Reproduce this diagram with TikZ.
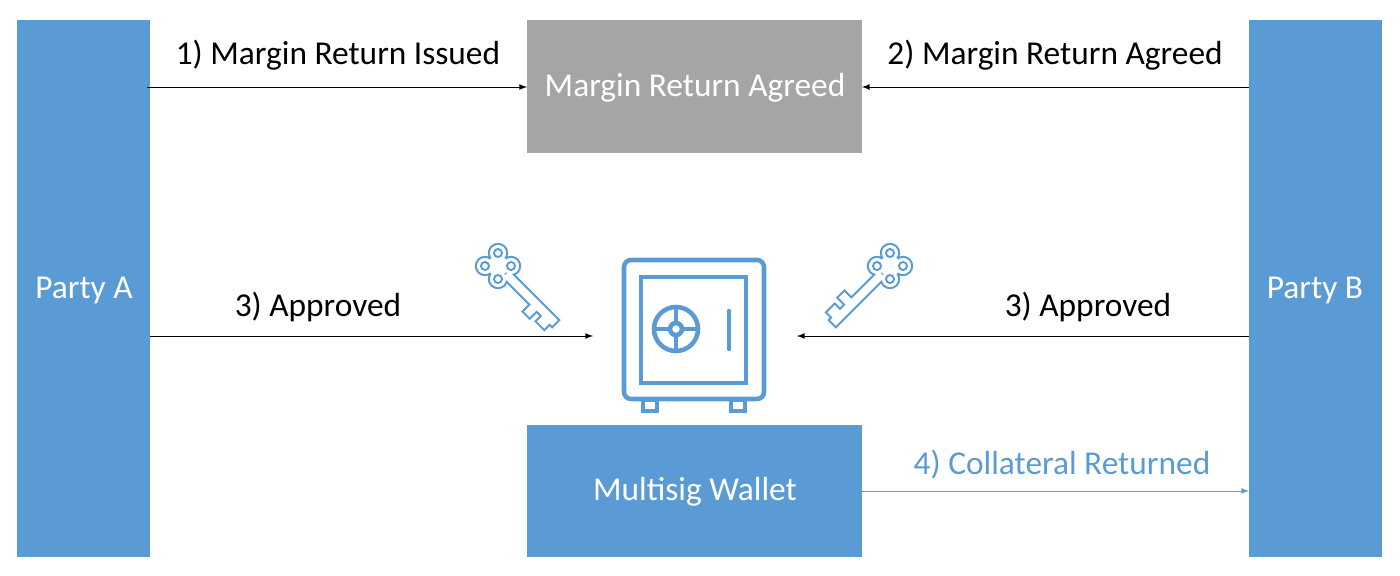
\documentclass[tikz,border=0pt]{standalone}
\usepackage{fontspec}
\setmainfont{Carlito}
\definecolor{partyblue}{HTML}{5B9BD5}
\definecolor{boxgray}{HTML}{A5A5A5}
\def\u{0.02cm}
% outline of a key, local pixel units, head at origin
\newcommand\keyshape{(0,0) circle[radius=9*\u] (-8,-8) circle[radius=7*\u] (8,-8) circle[radius=7*\u]
  (-8,8) circle[radius=7*\u] (8,8) circle[radius=7*\u] (10,-3.5) rectangle (70,3.5)
  (44,3.5) rectangle (51,12) (58,3.5) rectangle (67,10)}
\newcommand\drawkey[3]{%
  \begin{scope}[shift={(#1)},rotate=#2,scale=#3]
    \fill[partyblue] \keyshape;
    \draw[partyblue,line width=2.4pt] \keyshape;
    \fill[white] \keyshape;
    \draw[partyblue,line width=1.1pt] (-8,-8) circle[radius=3.5*\u] (8,-8) circle[radius=3.5*\u]
      (-8,8) circle[radius=3.5*\u] (8,8) circle[radius=3.5*\u];
  \end{scope}}
\begin{document}
\begin{tikzpicture}[x=\u,y=-\u,
  every node/.style={font=\fontsize{19}{22}\selectfont},
  party/.style={fill=partyblue,text=white},
  conn/.style={-latex,line width=0.5pt}]
  \useasboundingbox (0,0) rectangle (1400,575);

  \fill[party] (17,20) rectangle (150,557);
  \node[text=white] (pa) at (84,290) {Party A};
  \fill[party] (1249,20) rectangle (1382,557);
  \node[text=white] (pb) at (1315,290) {Party B};
  \fill[boxgray] (527,20) rectangle (862,153);
  \node[text=white] (agreed) at (695,88) {Margin Return Agreed};
  \fill[party] (527,425) rectangle (862,557);
  \node[text=white] (wallet) at (695,492) {Multisig Wallet};

  \coordinate (a1) at (147,87);   \coordinate (a1e) at (527,87);
  \coordinate (b1) at (1249,87);  \coordinate (b1e) at (862,87);
  \coordinate (a3) at (150,336);  \coordinate (a3e) at (593,336);
  \coordinate (b3) at (1249,336); \coordinate (b3e) at (797,336);
  \coordinate (w4) at (862,491);  \coordinate (w4e) at (1249,491);

  \draw[conn] (a1) -- (a1e);
  \draw[conn] (b1) -- (b1e);
  \draw[conn] (a3) -- (a3e);
  \draw[conn] (b3) -- (b3e);
  \draw[conn,partyblue] (w4) -- (w4e);
  \node (l1) at (338,55) {1) Margin Return Issued};
  \node (l2) at (1055,55) {2) Margin Return Agreed};
  \node (l3a) at (318,307) {3) Approved};
  \node (l3b) at (1088,307) {3) Approved};
  \node[text=partyblue] (l4) at (1062,465) {4) Collateral Returned};

  % safe
  \begin{scope}[partyblue,line width=2.6pt]
    \draw[rounded corners=4pt] (624,260) rectangle (764,399);
    \draw (641,277) rectangle (746,383);
    \draw (676,329) circle[radius=22*\u];
    \draw (676,329) circle[radius=6*\u];
    \draw (676,307) -- (676,323) (676,335) -- (676,351) (654,329) -- (670,329) (682,329) -- (698,329);
    \draw[line cap=round] (729,311) -- (729,349);
    \draw (643,400) rectangle (657,411) (731,400) rectangle (745,411);
  \end{scope}
  \drawkey{498,266}{-45}{1.15}
  \drawkey{890,266}{-135}{1.15}
\end{tikzpicture}
\end{document}
